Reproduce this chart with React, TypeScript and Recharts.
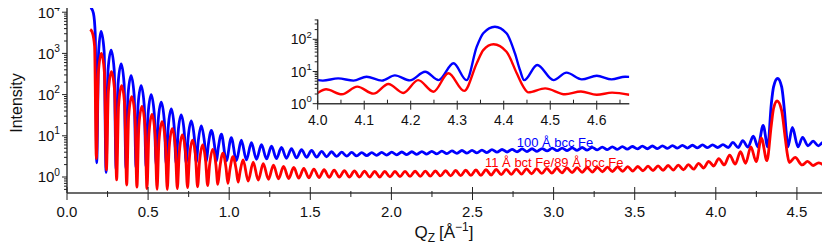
import React from "react";
import { LineChart, Line, XAxis, YAxis } from "recharts";

const bluePeakQ = [
  0.21, 0.272, 0.334, 0.395, 0.457, 0.519, 0.581, 0.643, 0.704, 0.766,
  0.828, 0.89, 0.952, 1.013, 1.075, 1.137, 1.199, 1.261, 1.322, 1.384,
  1.446, 1.508, 1.57, 1.631, 1.693, 1.755, 1.817, 1.879, 1.94, 2.002,
  2.064, 2.126, 2.188, 2.249, 2.311, 2.373, 2.435, 2.497, 2.558, 2.62,
  2.682, 2.744, 2.806, 2.867, 2.929, 2.991, 3.053, 3.115, 3.176, 3.238,
  3.3, 3.362, 3.424, 3.485, 3.547, 3.609, 3.671, 3.733, 3.794, 3.856,
  3.918, 3.98, 4.044, 4.105, 4.166, 4.231, 4.292, 4.381, 4.472, 4.535,
  4.6, 4.661,
];
const bluePeakI = [
  3400, 1200, 560, 290, 165, 100, 66, 45, 32, 23,
  17.5, 13.5, 11, 9, 7.8, 6.8, 6.1, 5.6, 5.2, 4.9,
  4.6, 4.4, 4.2, 4.1, 4.0, 3.95, 3.9, 3.9, 3.95, 4.0,
  4.05, 4.1, 4.15, 4.2, 4.25, 4.3, 4.4, 4.45, 4.5, 4.6,
  4.65, 4.7, 4.8, 4.85, 4.9, 5.0, 5.05, 5.1, 5.2, 5.25,
  5.3, 5.4, 5.45, 5.5, 5.6, 5.65, 5.7, 5.8, 5.85, 5.9,
  6.0, 6.05, 6.1, 6.9, 7.6, 9.8, 18, 246, 15.9, 9.2,
  7.4, 6.9,
];
const blueDipQ = [
  0.183, 0.241, 0.303, 0.364, 0.426, 0.488, 0.55, 0.612, 0.673, 0.735,
  0.797, 0.859, 0.921, 0.982, 1.044, 1.106, 1.168, 1.23, 1.291, 1.353,
  1.415, 1.477, 1.539, 1.6, 1.662, 1.724, 1.786, 1.848, 1.909, 1.971,
  2.033, 2.095, 2.157, 2.218, 2.28, 2.342, 2.404, 2.466, 2.527, 2.589,
  2.651, 2.713, 2.775, 2.836, 2.898, 2.96, 3.022, 3.084, 3.145, 3.207,
  3.269, 3.331, 3.393, 3.454, 3.516, 3.578, 3.64, 3.702, 3.763, 3.825,
  3.887, 3.949, 4.011, 4.077, 4.138, 4.198, 4.26, 4.32, 4.444, 4.507,
  4.568, 4.632,
];
const blueDipI = [
  2.2, 1.3, 1.5, 1.6, 1.7, 1.8, 1.9, 2.0, 2.1, 2.2,
  2.3, 2.35, 2.4, 2.45, 2.5, 2.6, 2.7, 2.75, 2.8, 2.85,
  2.9, 3.0, 3.05, 3.1, 3.15, 3.2, 3.25, 3.3, 3.35, 3.4,
  3.45, 3.5, 3.55, 3.6, 3.65, 3.7, 3.75, 3.8, 3.85, 3.9,
  4.0, 4.05, 4.1, 4.15, 4.2, 4.3, 4.35, 4.4, 4.45, 4.5,
  4.55, 4.6, 4.7, 4.75, 4.8, 4.85, 4.9, 4.95, 5.0, 5.05,
  5.1, 5.15, 5.2, 5.2, 5.2, 5.3, 5.4, 5.4, 5.4, 5.4,
  5.7, 5.7,
];
// flanks of the narrow low-q minima, the critical edge and the Bragg peak
const blueFlankQ = [
  0.147, 0.163, 0.174, 0.195, 0.229, 0.253, 0.291, 0.315, 0.352, 0.376,
  0.414, 0.438, 0.476, 0.5, 0.538, 0.562, 0.6, 0.624, 0.661, 0.685,
  0.723, 0.747, 0.785, 0.809, 0.847, 0.871, 0.909, 0.933,
  4.342, 4.356, 4.406, 4.424, 4.435, 4.67,
];
const blueFlankI = [
  13000, 9400, 3000, 1110, 1110, 392, 392, 184, 184, 96,
  96, 55, 55, 34, 34, 23, 23, 16, 16, 12,
  12, 9, 9, 7.3, 7.3, 6, 6, 5.2,
  59, 154, 154, 37, 11, 6.8,
];

const redPeakQ = [
  0.212, 0.274, 0.337, 0.399, 0.462, 0.524, 0.586, 0.649, 0.711, 0.774,
  0.836, 0.898, 0.961, 1.023, 1.086, 1.148, 1.21, 1.273, 1.335, 1.398,
  1.46, 1.522, 1.585, 1.647, 1.71, 1.772, 1.834, 1.897, 1.959, 2.022,
  2.084, 2.146, 2.209, 2.271, 2.334, 2.396, 2.458, 2.521, 2.583, 2.646,
  2.708, 2.77, 2.833, 2.895, 2.958, 3.02, 3.082, 3.145, 3.207, 3.27,
  3.332, 3.394, 3.457, 3.519, 3.582, 3.644, 3.706, 3.769, 3.831, 3.894,
  3.956, 4.018, 4.085, 4.152, 4.216, 4.281, 4.378, 4.489, 4.566, 4.633,
];
const redPeakI = [
  1000, 360, 165, 89, 52, 33, 22, 15, 10.5, 7.8,
  6, 4.7, 3.8, 3.1, 2.6, 2.3, 2.1, 1.95, 1.8, 1.7,
  1.62, 1.56, 1.5, 1.46, 1.43, 1.4, 1.38, 1.36, 1.36, 1.36,
  1.37, 1.38, 1.39, 1.4, 1.42, 1.44, 1.46, 1.48, 1.5, 1.52,
  1.54, 1.56, 1.58, 1.6, 1.62, 1.64, 1.66, 1.68, 1.7, 1.72,
  1.74, 1.76, 1.78, 1.8, 1.83, 1.86, 1.9, 1.95, 2.0, 2.15,
  2.4, 2.8, 3.4, 4.1, 5.4, 8.8, 70, 3.0, 2.4, 2.2,
];
const redDipQ = [
  0.181, 0.243, 0.306, 0.368, 0.431, 0.493, 0.555, 0.618, 0.68, 0.743,
  0.805, 0.867, 0.93, 0.992, 1.055, 1.117, 1.179, 1.242, 1.304, 1.367,
  1.429, 1.491, 1.554, 1.616, 1.679, 1.741, 1.803, 1.866, 1.928, 1.991,
  2.053, 2.115, 2.178, 2.24, 2.303, 2.365, 2.427, 2.49, 2.552, 2.615,
  2.677, 2.739, 2.802, 2.864, 2.927, 2.989, 3.051, 3.114, 3.176, 3.239,
  3.301, 3.363, 3.426, 3.488, 3.551, 3.613, 3.675, 3.738, 3.8, 3.863,
  3.925, 3.987, 4.052, 4.12, 4.184, 4.249, 4.315, 4.453, 4.532, 4.6,
];
const redDipI = [
  2.8, 1.5, 0.85, 0.64, 0.57, 0.52, 0.5, 0.5, 0.52, 0.55,
  0.58, 0.62, 0.66, 0.7, 0.75, 0.8, 0.84, 0.88, 0.9, 0.92,
  0.94, 0.96, 0.97, 0.98, 0.99, 1.0, 1.0, 1.0, 1.0, 1.01,
  1.02, 1.03, 1.04, 1.05, 1.06, 1.07, 1.08, 1.09, 1.1, 1.12,
  1.14, 1.16, 1.18, 1.2, 1.22, 1.24, 1.26, 1.28, 1.3, 1.32,
  1.34, 1.36, 1.38, 1.4, 1.42, 1.44, 1.46, 1.48, 1.5, 1.55,
  1.65, 1.85, 1.96, 2.05, 2.15, 2.36, 2.5, 2.25, 1.96, 1.9,
];
const redFlankQ = [
  0.143, 0.155, 0.17, 0.193, 0.231, 0.255, 0.294, 0.318, 0.356, 0.38,
  0.419, 0.443, 0.481, 0.505, 0.543, 0.567, 0.606, 0.63, 0.668, 0.692,
  0.731, 0.755, 0.793, 0.817, 0.855, 0.879, 0.918, 0.942, 0.98, 1.004,
  1.043, 1.067,
  4.342, 4.356, 4.406, 4.428, 4.442, 4.67,
];
const redFlankI = [
  3800, 3300, 1500, 328, 327, 118, 118, 54, 54, 29.5,
  29.4, 17.3, 17.3, 11.1, 11.1, 7.5, 7.5, 5.2, 5.2, 3.8,
  3.8, 3.0, 2.95, 2.35, 2.37, 1.95, 1.98, 1.68, 1.71, 1.48,
  1.52, 1.35,
  18, 46, 41, 8.8, 3.4, 1.9,
];

const mainXTicks = [
  0, 0.25, 0.5, 0.75, 1, 1.25, 1.5, 1.75, 2, 2.25, 2.5, 2.75, 3, 3.25, 3.5,
  3.75, 4, 4.25, 4.5,
];
const insetXTicks = [4, 4.05, 4.1, 4.15, 4.2, 4.25, 4.3, 4.35, 4.4, 4.45, 4.5, 4.55, 4.6, 4.65];

const MAIN_X = [0, 4.667];
const MAIN_Y = [0.409, 14960];
const INSET_X = [4, 4.67];
const INSET_Y = [1, 412];

const FONT = "'Liberation Sans', Arial, Helvetica, sans-serif";
const AXIS = { stroke: "#3a3a3a", strokeWidth: 1.5 };

const merge = (...parts: [number[], number[]][]) =>
  parts
    .flatMap(([qs, is]) => qs.map((q, k) => ({ q, i: is[k] })))
    .sort((a, b) => a.q - b.q);

const blueData = merge([bluePeakQ, bluePeakI], [blueDipQ, blueDipI], [blueFlankQ, blueFlankI]);
const redData = merge([redPeakQ, redPeakI], [redDipQ, redDipI], [redFlankQ, redFlankI]);
const blueInset = blueData.filter((d) => d.q >= 3.9);
const redInset = redData.filter((d) => d.q >= 3.9);

const logTicks = (lo: number, hi: number) => {
  const out: number[] = [];
  for (let e = -1; e <= 4; e++)
    for (let m = 1; m <= 9; m++) {
      const v = m * Math.pow(10, e);
      if (v >= lo && v <= hi) out.push(v);
    }
  return out;
};
const isDecade = (v: number) => Math.abs(Math.log10(v) - Math.round(Math.log10(v))) < 1e-6;
const isStep = (v: number, s: number) => Math.abs(v / s - Math.round(v / s)) < 1e-6;

const YTick = ({ x, y, payload, fs, major, minor, gap }: any) => {
  const v = payload.value;
  const big = isDecade(v);
  return (
    <g>
      <line x1={x - (big ? major : minor)} x2={x} y1={y} y2={y} stroke="#222" strokeWidth={1} />
      {big && (
        <text x={x - gap} y={y + fs * 0.36} textAnchor="end" fontSize={fs} fill="#111" fontFamily={FONT}>
          10
          <tspan dy={-fs * 0.45} fontSize={fs * 0.68}>
            {Math.round(Math.log10(v))}
          </tspan>
        </text>
      )}
    </g>
  );
};

const XTick = ({ x, y, payload, step, up, down, mUp, mDown, fs, digits, dy, hideLabel }: any) => {
  const v = payload.value;
  const big = isStep(v, step);
  return (
    <g>
      <line x1={x} x2={x} y1={y - (big ? up : mUp)} y2={y + (big ? down : mDown)} stroke="#222" strokeWidth={1} />
      {big && !hideLabel && (
        <text x={x} y={y + dy} textAnchor="middle" fontSize={fs} fill="#111" fontFamily={FONT}>
          {v.toFixed(digits)}
        </text>
      )}
    </g>
  );
};

export default function App() {
  return (
    <div style={{ position: "relative", width: 830, height: 245, margin: "-8px 0 0 -8px", fontFamily: FONT, background: "#fff" }}>
      <div style={{ position: "absolute", left: 0, top: 0 }}>
        <LineChart width={830} height={245} margin={{ top: 5, right: 6, bottom: 0, left: 0 }}>
          <XAxis
            xAxisId="b"
            dataKey="q"
            type="number"
            domain={MAIN_X}
            allowDataOverflow
            ticks={mainXTicks}
            interval={0}
            height={52}
            tickSize={0}
            tickMargin={0}
            axisLine={AXIS}
            tick={<XTick step={0.5} up={6} down={7} mUp={2} mDown={4} fs={15} digits={1} dy={23.5} />}
          />
          <XAxis
            xAxisId="t"
            orientation="top"
            type="number"
            domain={MAIN_X}
            allowDataOverflow
            ticks={mainXTicks}
            interval={0}
            height={0}
            tickSize={0}
            tickMargin={0}
            axisLine={AXIS}
            tick={<XTick step={0.5} up={0} down={0} mUp={0} mDown={0} hideLabel />}
          />
          <YAxis
            yAxisId="l"
            type="number"
            scale="log"
            domain={MAIN_Y}
            allowDataOverflow
            ticks={logTicks(MAIN_Y[0], MAIN_Y[1])}
            interval={0}
            width={67}
            tickSize={0}
            tickMargin={0}
            axisLine={AXIS}
            tick={<YTick fs={15} major={5} minor={3} gap={7} />}
          />
          <YAxis
            yAxisId="r"
            orientation="right"
            type="number"
            scale="log"
            domain={MAIN_Y}
            allowDataOverflow
            width={0}
            tick={false}
            tickLine={false}
            axisLine={AXIS}
          />
          <Line data={blueData} xAxisId="b" yAxisId="l" dataKey="i" type="monotone" stroke="#0000ff" strokeWidth={2.8} dot={false} isAnimationActive={false} />
          <Line data={redData} xAxisId="b" yAxisId="l" dataKey="i" type="monotone" stroke="#ff0000" strokeWidth={2.8} dot={false} isAnimationActive={false} />
        </LineChart>
      </div>

      <div style={{ position: "absolute", left: 270, top: 10 }}>
        <LineChart width={365} height={130} margin={{ top: 9.5, right: 5.7, bottom: 0, left: 0 }}>
          <XAxis
            xAxisId="b"
            dataKey="q"
            type="number"
            domain={INSET_X}
            allowDataOverflow
            ticks={insetXTicks}
            interval={0}
            height={36.3}
            tickSize={0}
            tickMargin={0}
            axisLine={AXIS}
            tick={<XTick step={0.1} up={3} down={6} mUp={4} mDown={0} fs={14} digits={1} dy={21} />}
          />
          <XAxis
            xAxisId="t"
            orientation="top"
            type="number"
            domain={INSET_X}
            allowDataOverflow
            ticks={insetXTicks}
            interval={0}
            height={0}
            tickSize={0}
            tickMargin={0}
            axisLine={AXIS}
            tick={<XTick step={0.1} up={0} down={5} mUp={0} mDown={5} hideLabel />}
          />
          <YAxis
            yAxisId="l"
            type="number"
            scale="log"
            domain={INSET_Y}
            allowDataOverflow
            ticks={logTicks(INSET_Y[0], INSET_Y[1])}
            interval={0}
            width={47.7}
            tickSize={0}
            tickMargin={0}
            axisLine={AXIS}
            tick={<YTick fs={14} major={5} minor={3} gap={6} />}
          />
          <YAxis
            yAxisId="r"
            orientation="right"
            type="number"
            scale="log"
            domain={INSET_Y}
            allowDataOverflow
            width={0}
            tick={false}
            tickLine={false}
            axisLine={AXIS}
          />
          <Line data={blueInset} xAxisId="b" yAxisId="l" dataKey="i" type="monotone" stroke="#0000ff" strokeWidth={2.4} dot={false} isAnimationActive={false} />
          <Line data={redInset} xAxisId="b" yAxisId="l" dataKey="i" type="monotone" stroke="#ff0000" strokeWidth={2.4} dot={false} isAnimationActive={false} />
        </LineChart>
      </div>

      <svg width={830} height={245} style={{ position: "absolute", left: 0, top: 0, pointerEvents: "none" }}>
        <text transform="translate(22,103) rotate(-90)" textAnchor="middle" fontSize={16} fill="#111" fontFamily={FONT}>
          Intensity
        </text>
        <text x={444} y={238} textAnchor="middle" fontSize={17} fill="#111" fontFamily={FONT}>
          Q
          <tspan fontSize={12} dy={4}>Z</tspan>
          <tspan dy={-4} dx={4}>[Å</tspan>
          <tspan fontSize={12} dy={-7}>−1</tspan>
          <tspan dy={7}>]</tspan>
        </text>
        <text x={516.7} y={146.5} fontSize={13} fill="#0000ff" fontFamily={FONT}>
          100 Å bcc Fe
        </text>
        <text x={485} y={166.5} fontSize={13} fill="#ff0000" fontFamily={FONT}>
          11 Å bct Fe/89 Å bcc Fe
        </text>
      </svg>
    </div>
  );
}
